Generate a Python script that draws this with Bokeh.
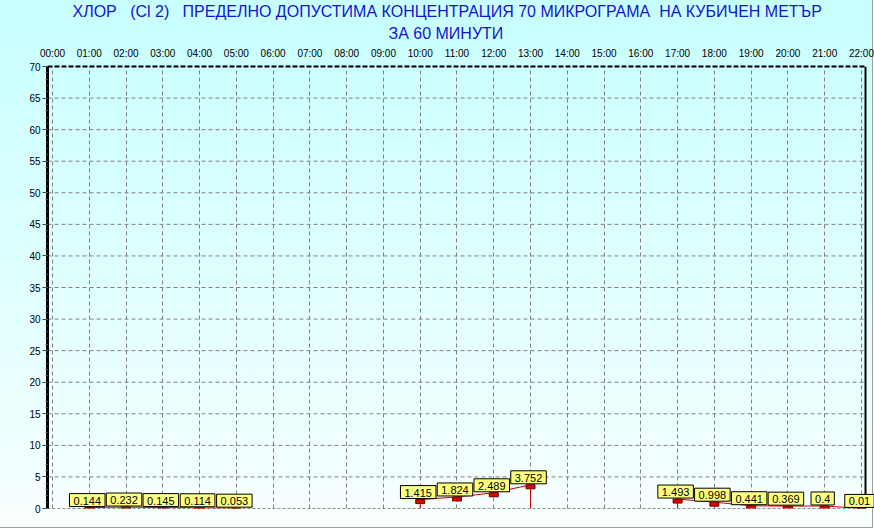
from bokeh.plotting import figure
from bokeh.models import Range1d, FixedTicker, Label, Title, InlineStyleSheet
from bokeh.embed import file_html
from bokeh.resources import INLINE

# ---------------- data ----------------
title_line1 = "ХЛОР\u00a0\u00a0 (Cl 2)\u00a0\u00a0 ПРЕДЕЛНО ДОПУСТИМА КОНЦЕНТРАЦИЯ 70 МИКРОГРАМА\u00a0 НА КУБИЧЕН МЕТЪР"
title_line2 = "ЗА 60 МИНУТИ"

hours = list(range(23))
tick_labels = ["00:00", "01:00", "02:00", "03:00", "04:00", "05:00", "06:00", "07:00",
               "08:00", "09:00", "10:00", "11:00", "12:00", "13:00", "14:00", "15:00",
               "16:00", "17:00", "18:00", "19:00", "20:00", "21:00", "22:00"]
values = [None, 0.144, 0.232, 0.145, 0.114, 0.053, None, None, None, None,
          1.415, 1.824, 2.489, 3.752, None, None, None,
          1.493, 0.998, 0.441, 0.369, 0.4, 0.01]
y_ticks = [0, 5, 10, 15, 20, 25, 30, 35, 40, 45, 50, 55, 60, 65, 70]
y_minor = list(range(0, 71))

# ---------------- layout ----------------
W, H = 874, 529
BL, BR, BT, BB = 47, 0, 66, 21
PLOT_W = 818                      # bordered plot area width in px
FRAME_W, FRAME_H = W - BL - BR, H - BT - BB
X0, X1 = -0.136, 22.11            # bordered area in hours
Y0, Y1 = 0, 70
px_per_x = PLOT_W / (X1 - X0)
px_per_y = FRAME_H / (Y1 - Y0)
X_END = X0 + FRAME_W / px_per_x   # frame extends a bit past the border (room for labels)

FONT = "Liberation Sans"
GRID = "#808080"
TITLE_COLOR = "#1414d2"

p = figure(width=W, height=H, output_backend="svg", toolbar_location=None, title=None,
           x_range=Range1d(X0, X_END), y_range=Range1d(Y0, Y1),
           x_axis_location="above",
           min_border_left=BL, min_border_right=BR, min_border_top=BT, min_border_bottom=BB,
           border_fill_color=None, background_fill_color=None, outline_line_color=None)

p.stylesheets = [InlineStyleSheet(css=(
    ":host { background: linear-gradient(to bottom, #c8ffff 0%, #dcffff 45%, #f3ffff 90%, #fafefe 100%);"
    " box-shadow: inset -1px -1px 0 #ffffff, inset -2px -2px 0 #a0a0a0; }"))]

# titles (inner one first); left aligned with pixel offsets from the frame's left edge
for txt, so, left_px in ((title_line2, 6, 388), (title_line1, 0, 72)):
    p.add_layout(Title(text=txt, align="left", offset=left_px - BL, standoff=so,
                       text_font=FONT, text_font_size="16px", text_font_style="normal",
                       text_color=TITLE_COLOR), "above")

# x axis (top)
xa = p.xaxis[0]
xa.ticker = FixedTicker(ticks=hours)
xa.bounds = (X0, X1)
xa.major_label_overrides = {h: lab for h, lab in zip(hours, tick_labels)}
xa.major_tick_out = 0
xa.major_tick_in = 0
xa.minor_tick_out = 0
xa.minor_tick_in = 0
xa.axis_line_color = "black"
xa.axis_line_width = 2
xa.axis_line_dash = "5 2"
xa.major_label_standoff = 8
xa.major_label_text_font = FONT
xa.major_label_text_font_size = "10px"
xa.major_label_text_color = "black"

# y axis (left)
ya = p.yaxis[0]
ya.ticker = FixedTicker(ticks=y_ticks, minor_ticks=y_minor)
ya.major_tick_out = 5
ya.major_tick_in = 0
ya.major_tick_line_color = "#404040"
ya.minor_tick_out = 2
ya.minor_tick_in = 0
ya.minor_tick_line_color = "#606060"
ya.axis_line_color = "black"
ya.axis_line_width = 3
ya.major_label_standoff = 2
ya.major_label_text_font = FONT
ya.major_label_text_font_size = "10px"
ya.major_label_text_color = "black"

g = p.xgrid[0]
g.grid_line_color = GRID
g.grid_line_dash = "4 3"
g.grid_line_width = 1
p.ygrid[0].visible = False

# horizontal grid lines limited to the bordered area
hy = [t for t in y_ticks if t != Y0]
p.segment(x0=[X0] * len(hy), y0=hy, x1=[X1] * len(hy), y1=hy,
          line_color=GRID, line_dash="4 3", line_width=1)
# bottom (dashed) and right (solid) borders
p.segment(x0=[X0], y0=[Y0], x1=[X1], y1=[Y0], line_color="#202020", line_dash="3 2", line_width=1)
p.segment(x0=[X1], y0=[Y0], x1=[X1], y1=[Y1], line_color="black", line_width=2)

# ---------------- series ----------------
seg_xs, seg_ys = [], []
run = []
for h, v in zip(hours + [None], values + [None]):
    if v is None:
        if run:
            seg_xs.append([run[0][0]] + [r[0] for r in run] + [run[-1][0]])
            seg_ys.append([0] + [r[1] for r in run] + [0])
            run = []
    else:
        run.append((h, v))

p.multi_line(seg_xs, seg_ys, line_color="#d00000", line_width=1)

pts_x = [h for h, v in zip(hours, values) if v is not None]
pts_y = [v for v in values if v is not None]
mw = 4.5 / px_per_x
mh = 4.0 / px_per_y
p.quad(left=[x - mw for x in pts_x], right=[x + mw for x in pts_x],
       top=pts_y, bottom=[y - mh for y in pts_y],
       fill_color="#e00000", line_color="#700000", line_width=1)

for x, y in zip(pts_x, pts_y):
    p.add_layout(Label(x=x, y=y, text=str(y), anchor="bottom_center", x_offset=-2, y_offset=1,
                       text_font=FONT, text_font_size="11px", text_color="black",
                       background_fill_color="#ffff80", border_line_color="black",
                       border_line_width=1,
                       padding=dict(left=4, right=4, top=3, bottom=2)))

open("out.html", "w").write(file_html(p, INLINE))
